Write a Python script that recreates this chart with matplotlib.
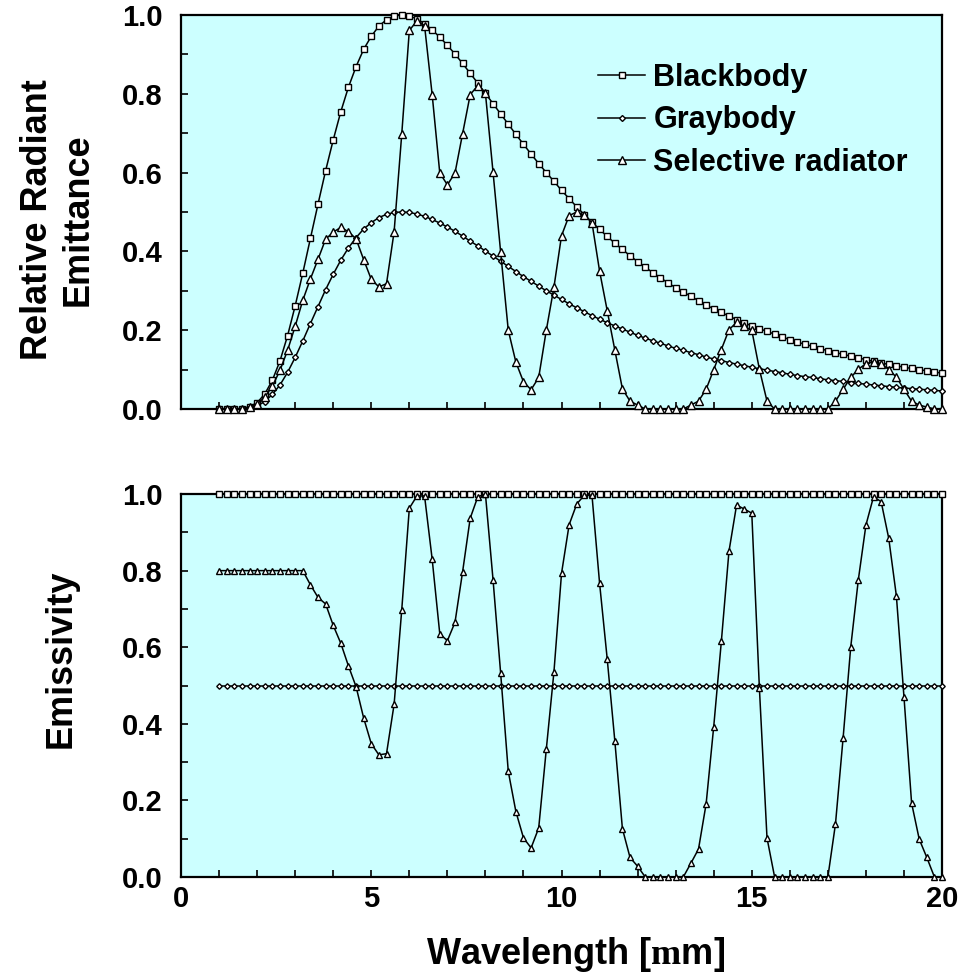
import numpy as np
import matplotlib
matplotlib.use('Agg')
import matplotlib.pyplot as plt
from matplotlib.ticker import MultipleLocator

plt.rcParams['font.family'] = ['Liberation Sans', 'DejaVu Sans']
plt.rcParams['font.weight'] = 'bold'
plt.rcParams['mathtext.fontset'] = 'custom'
plt.rcParams['mathtext.rm'] = 'Liberation Serif'

# wavelength grid (um), 1.0 .. 20.0 in 0.2 steps
wavelength = [round(1.0 + 0.2 * i, 1) for i in range(96)]

# relative radiant emittance (top panel)
blackbody = [
    0.000, 0.000, 0.000, 0.001, 0.006, 0.016, 0.038, 0.073, 0.122, 0.186,
    0.262, 0.345, 0.433, 0.520, 0.605, 0.683, 0.755, 0.817, 0.869, 0.913,
    0.946, 0.972, 0.988, 0.998, 1.000, 0.998, 0.990, 0.978, 0.962, 0.944,
    0.923, 0.901, 0.877, 0.852, 0.827, 0.801, 0.775, 0.749, 0.723, 0.697,
    0.672, 0.647, 0.623, 0.600, 0.578, 0.555, 0.534, 0.513, 0.493, 0.474,
    0.456, 0.438, 0.421, 0.405, 0.389, 0.374, 0.360, 0.346, 0.333, 0.320,
    0.308, 0.297, 0.286, 0.275, 0.264, 0.254, 0.245, 0.236, 0.227, 0.219,
    0.211, 0.204, 0.197, 0.190, 0.183, 0.176, 0.170, 0.164, 0.159, 0.153,
    0.148, 0.143, 0.139, 0.134, 0.130, 0.125, 0.121, 0.117, 0.113, 0.110,
    0.106, 0.103, 0.100, 0.097, 0.094, 0.091,
]
graybody = [
    0.000, 0.000, 0.000, 0.001, 0.003, 0.008, 0.019, 0.037, 0.061, 0.093,
    0.131, 0.173, 0.217, 0.260, 0.303, 0.342, 0.378, 0.409, 0.435, 0.457,
    0.473, 0.486, 0.494, 0.499, 0.500, 0.499, 0.495, 0.489, 0.481, 0.472,
    0.462, 0.451, 0.439, 0.426, 0.414, 0.401, 0.388, 0.375, 0.362, 0.349,
    0.336, 0.324, 0.312, 0.300, 0.289, 0.278, 0.267, 0.257, 0.247, 0.237,
    0.228, 0.219, 0.211, 0.203, 0.195, 0.187, 0.180, 0.173, 0.167, 0.160,
    0.154, 0.149, 0.143, 0.138, 0.132, 0.127, 0.123, 0.118, 0.114, 0.110,
    0.106, 0.102, 0.099, 0.095, 0.092, 0.088, 0.085, 0.082, 0.080, 0.077,
    0.074, 0.072, 0.070, 0.067, 0.065, 0.063, 0.061, 0.059, 0.057, 0.055,
    0.053, 0.052, 0.050, 0.049, 0.047, 0.046,
]
selective = [
    0.000, 0.000, 0.000, 0.001, 0.005, 0.013, 0.030, 0.058, 0.098, 0.149,
    0.210, 0.276, 0.330, 0.380, 0.431, 0.449, 0.461, 0.450, 0.432, 0.379,
    0.329, 0.310, 0.318, 0.450, 0.697, 0.961, 0.985, 0.973, 0.798, 0.599,
    0.569, 0.599, 0.699, 0.798, 0.821, 0.801, 0.601, 0.398, 0.200, 0.119,
    0.069, 0.049, 0.080, 0.200, 0.309, 0.440, 0.491, 0.500, 0.492, 0.473,
    0.350, 0.250, 0.150, 0.051, 0.020, 0.010, 0.000, 0.000, 0.000, 0.000,
    0.000, 0.000, 0.010, 0.020, 0.050, 0.100, 0.151, 0.201, 0.220, 0.210,
    0.200, 0.101, 0.020, 0.000, 0.000, 0.000, 0.000, 0.000, 0.000, 0.000,
    0.000, 0.020, 0.050, 0.080, 0.101, 0.115, 0.120, 0.115, 0.100, 0.081,
    0.050, 0.020, 0.010, 0.005, 0.000, 0.000,
]

# emissivity (bottom panel)
emis_black = [1.0] * 96
emis_gray = [0.5] * 96
emis_selective = [
    0.800, 0.800, 0.800, 0.800, 0.800, 0.800, 0.800, 0.800, 0.800, 0.800,
    0.800, 0.800, 0.763, 0.730, 0.713, 0.657, 0.610, 0.551, 0.497, 0.415,
    0.348, 0.319, 0.322, 0.451, 0.697, 0.963, 0.995, 0.995, 0.830, 0.635,
    0.617, 0.665, 0.797, 0.937, 0.993, 1.000, 0.776, 0.532, 0.276, 0.171,
    0.102, 0.076, 0.128, 0.334, 0.535, 0.793, 0.920, 0.974, 0.997, 0.997,
    0.767, 0.570, 0.356, 0.126, 0.051, 0.028, 0.000, 0.000, 0.000, 0.000,
    0.000, 0.000, 0.036, 0.073, 0.191, 0.393, 0.615, 0.850, 0.971, 0.961,
    0.950, 0.493, 0.102, 0.000, 0.000, 0.000, 0.000, 0.000, 0.000, 0.000,
    0.000, 0.139, 0.363, 0.600, 0.776, 0.919, 0.993, 0.980, 0.884, 0.734,
    0.470, 0.193, 0.099, 0.051, 0.000, 0.000,
]

labels = ['Blackbody', 'Graybody', 'Selective radiator']
bg = '#CCFFFF'
lw = 1.1
mew = 1.0

fig = plt.figure(figsize=(9.65, 9.75), dpi=100)
ax1 = fig.add_axes([0.1876, 0.5805, 0.7886, 0.4041])
ax2 = fig.add_axes([0.1876, 0.1005, 0.7886, 0.3928])


def style_axis(ax, show_xlabels):
    ax.set_facecolor(bg)
    ax.set_xlim(0, 20)
    ax.set_ylim(0, 1)
    ax.xaxis.set_major_locator(MultipleLocator(5))
    ax.xaxis.set_minor_locator(MultipleLocator(1))
    ax.yaxis.set_major_locator(MultipleLocator(0.2))
    ax.yaxis.set_minor_locator(MultipleLocator(0.1))
    ax.yaxis.set_major_formatter(plt.FormatStrFormatter('%.1f'))
    for s in ax.spines.values():
        s.set_linewidth(1.6)
    ax.tick_params(which='both', direction='in', length=5, width=1.2,
                   top=False, right=False)
    ax.tick_params(axis='y', labelsize=21, pad=13)
    ax.tick_params(axis='x', labelsize=21, pad=6, labelbottom=show_xlabels)


# top panel
ax1.plot(wavelength, blackbody, color='black', lw=lw, marker='s', ms=5,
         mfc='white', mec='black', mew=mew, clip_on=False, zorder=3, label=labels[0])
ax1.plot(wavelength, graybody, color='black', lw=lw, marker='D', ms=3,
         mfc='white', mec='black', mew=mew, clip_on=False, zorder=3, label=labels[1])
ax1.plot(wavelength, selective, color='black', lw=lw, marker='^', ms=5.5,
         mfc='white', mec='black', mew=mew, clip_on=False, zorder=3, label=labels[2])
style_axis(ax1, False)
ax1.set_ylabel('Relative Radiant\nEmittance', fontsize=26, fontweight='bold')
ax1.yaxis.set_label_coords(-0.112, 0.48)
ax1.legend(loc='upper left', bbox_to_anchor=(0.548, 0.878), frameon=False,
           fontsize=22, numpoints=1, handlelength=1.55, handletextpad=0.26,
           labelspacing=0.4, borderpad=0, borderaxespad=0)

# bottom panel
ax2.plot(wavelength, emis_black, color='black', lw=lw, marker='s', ms=4,
         mfc='white', mec='black', mew=mew, clip_on=False, zorder=3)
ax2.plot(wavelength, emis_gray, color='black', lw=lw, marker='D', ms=2.8,
         mfc='white', mec='black', mew=mew, clip_on=False, zorder=3)
ax2.plot(wavelength, emis_selective, color='black', lw=lw, marker='^', ms=5,
         mfc='white', mec='black', mew=mew, clip_on=False, zorder=3)
style_axis(ax2, True)
ax2.set_ylabel('Emissivity', fontsize=26, fontweight='bold')
ax2.yaxis.set_label_coords(-0.134, 0.569)
ax2.set_xlabel(r'Wavelength [$\mathrm{m}$m]', fontsize=26, fontweight='bold')
ax2.xaxis.set_label_coords(0.518, -0.151)

fig.savefig('out.png', dpi=100, facecolor='white')
